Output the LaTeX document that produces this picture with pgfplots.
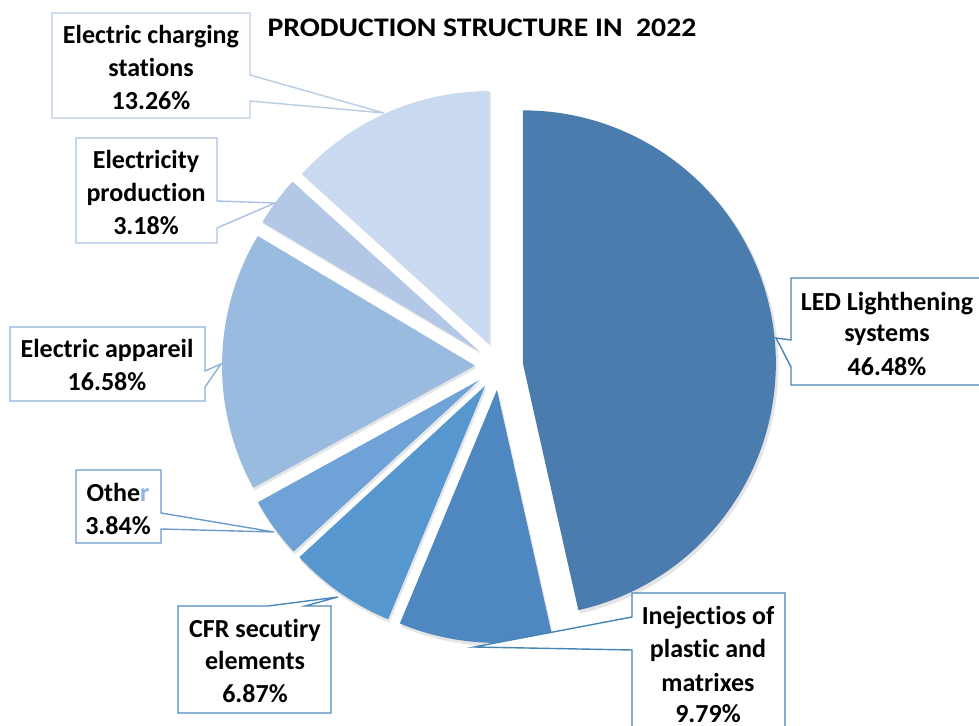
\documentclass[border=0pt]{standalone}
\usepackage{fontspec}
\setmainfont{Carlito}[Ligatures=NoCommon]
\usepackage{pgfplots}
\usepackage{pgfplotstable}
\pgfplotsset{compat=1.18}
\usetikzlibrary{calc}

\definecolor{c0}{HTML}{4A7DAD}
\definecolor{c1}{HTML}{4F88C0}
\definecolor{c2}{HTML}{5797CF}
\definecolor{c3}{HTML}{6FA3D8}
\definecolor{c4}{HTML}{9ABBE0}
\definecolor{c5}{HTML}{B3C8E6}
\definecolor{c6}{HTML}{C9D9EF}
\definecolor{bLED}{HTML}{4A84B4}
\definecolor{bInj}{HTML}{4585B5}
\definecolor{bCFR}{HTML}{4A89BE}
\definecolor{bOth}{HTML}{6A9CCB}
\definecolor{bApp}{HTML}{8EB1DA}
\definecolor{bPrd}{HTML}{A9C1E0}
\definecolor{bChg}{HTML}{B8CCE4}
\definecolor{rblue}{HTML}{8DB4E2}

% shares clockwise from 12 o'clock
\pgfplotstableread[col sep=comma]{
name,value
LED,46.48
Inj,9.79
CFR,6.87
Other,3.84
App,16.58
Prod,3.18
Charge,13.26
}\piedata

% start / end / middle angle of each slice
\def\acc{90}
\pgfplotsforeachungrouped \i in {0,...,6}{%
  \pgfplotstablegetelem{\i}{value}\of\piedata
  \pgfmathsetmacro\sweep{3.6*\pgfplotsretval}%
  \pgfmathsetmacro\endang{\acc-\sweep}%
  \pgfmathsetmacro\midang{\acc-\sweep/2}%
  \expandafter\xdef\csname sa\i\endcsname{\acc}%
  \expandafter\xdef\csname ea\i\endcsname{\endang}%
  \expandafter\xdef\csname ma\i\endcsname{\midang}%
  \xdef\acc{\endang}%
}

\newcommand\lab[3]{\node[anchor=base, inner sep=0pt, font=\bfseries\fontsize{13}{16}\selectfont] at (axis cs:#1,#2) {#3};}

\begin{document}
\begin{tikzpicture}
\begin{axis}[
    scale only axis,
    width=489.5pt, height=363pt,
    xmin=0, xmax=979, ymin=0, ymax=726,
    y dir=reverse,
    hide axis,
    clip=false,
]
% shadows
\pgfplotsinvokeforeach{0,...,6}{
  \fill[black, opacity=0.10]
    ($(axis cs:499,366)+(\csname ma#1\endcsname:12pt)+(0.8pt,-1.2pt)$)
    -- ++(\csname sa#1\endcsname:127pt)
    arc[start angle=\csname sa#1\endcsname, end angle=\csname ea#1\endcsname, radius=127pt] -- cycle;
}
% slices
\pgfplotsinvokeforeach{0,...,6}{
  \fill[c#1]
    ($(axis cs:499,366)+(\csname ma#1\endcsname:12pt)$)
    -- ++(\csname sa#1\endcsname:126.5pt)
    arc[start angle=\csname sa#1\endcsname, end angle=\csname ea#1\endcsname, radius=126.5pt] -- cycle;
}

% callout boxes
\filldraw[draw=bChg, fill=white, line width=0.7pt]
  (axis cs:52,13) -- (axis cs:250,13) -- (axis cs:250,75) -- (axis cs:384,113)
  -- (axis cs:250,101) -- (axis cs:250,118) -- (axis cs:52,118) -- cycle;
\filldraw[draw=bPrd, fill=white, line width=0.7pt]
  (axis cs:76,138) -- (axis cs:217,138) -- (axis cs:217,201) -- (axis cs:275,203)
  -- (axis cs:217,228) -- (axis cs:217,243) -- (axis cs:76,243) -- cycle;
\filldraw[draw=bApp, fill=white, line width=0.7pt]
  (axis cs:10,327) -- (axis cs:205,327) -- (axis cs:205,371) -- (axis cs:221,364)
  -- (axis cs:205,387) -- (axis cs:205,401) -- (axis cs:10,401) -- cycle;
\filldraw[draw=bOth, fill=white, line width=0.7pt]
  (axis cs:76,470) -- (axis cs:161,470) -- (axis cs:161,513) -- (axis cs:274,532)
  -- (axis cs:161,529) -- (axis cs:161,543) -- (axis cs:76,543) -- cycle;
\filldraw[draw=bCFR, fill=white, line width=0.7pt]
  (axis cs:178,606) -- (axis cs:268,606) -- (axis cs:338,597) -- (axis cs:305,606)
  -- (axis cs:331,606) -- (axis cs:331,713) -- (axis cs:178,713) -- cycle;
\fill[white]
  (axis cs:632,726) -- (axis cs:632,650) -- (axis cs:474,647) -- (axis cs:632,617)
  -- (axis cs:632,593) -- (axis cs:785,593) -- (axis cs:785,726) -- cycle;
\draw[bInj, line width=0.7pt]
  (axis cs:632,726) -- (axis cs:632,650) -- (axis cs:474,647) -- (axis cs:632,617)
  -- (axis cs:632,593) -- (axis cs:785,593) -- (axis cs:785,726);
\fill[white]
  (axis cs:979,278) -- (axis cs:791,278) -- (axis cs:791,340) -- (axis cs:776,338)
  -- (axis cs:791,367) -- (axis cs:791,385) -- (axis cs:979,385) -- cycle;
\draw[bLED, line width=0.7pt]
  (axis cs:979,278) -- (axis cs:791,278) -- (axis cs:791,340) -- (axis cs:776,338)
  -- (axis cs:791,367) -- (axis cs:791,385) -- (axis cs:979,385);

% texts
\node[anchor=base, inner sep=0pt, xscale=1.11, font=\bfseries\fontsize{13.4}{16}\selectfont]
  at (axis cs:482,37) {PRODUCTION STRUCTURE IN\ \ 2022};
\lab{151}{44}{Electric charging}
\lab{151}{77}{stations}
\lab{151}{110}{13.26\%}
\lab{146}{169}{Electricity}
\lab{146}{202}{production}
\lab{146}{235}{3.18\%}
\lab{107}{358}{Electric appareil}
\lab{107}{391}{16.58\%}
\lab{118}{502}{Othe\textcolor{rblue}{r}}
\lab{118}{534}{3.84\%}
\lab{255}{637}{CFR secutiry}
\lab{255}{669}{elements}
\lab{255}{702}{6.87\%}
\lab{708}{624}{Inejectios of}
\lab{708}{657}{plastic and}
\lab{708}{691}{matrixes}
\lab{708}{722}{9.79\%}
\lab{887}{311}{LED Lighthening}
\lab{887}{342}{systems}
\lab{887}{376}{46.48\%}
\end{axis}
\pgfresetboundingbox
\useasboundingbox (current axis.south west) rectangle (current axis.north east);
\end{tikzpicture}
\end{document}
